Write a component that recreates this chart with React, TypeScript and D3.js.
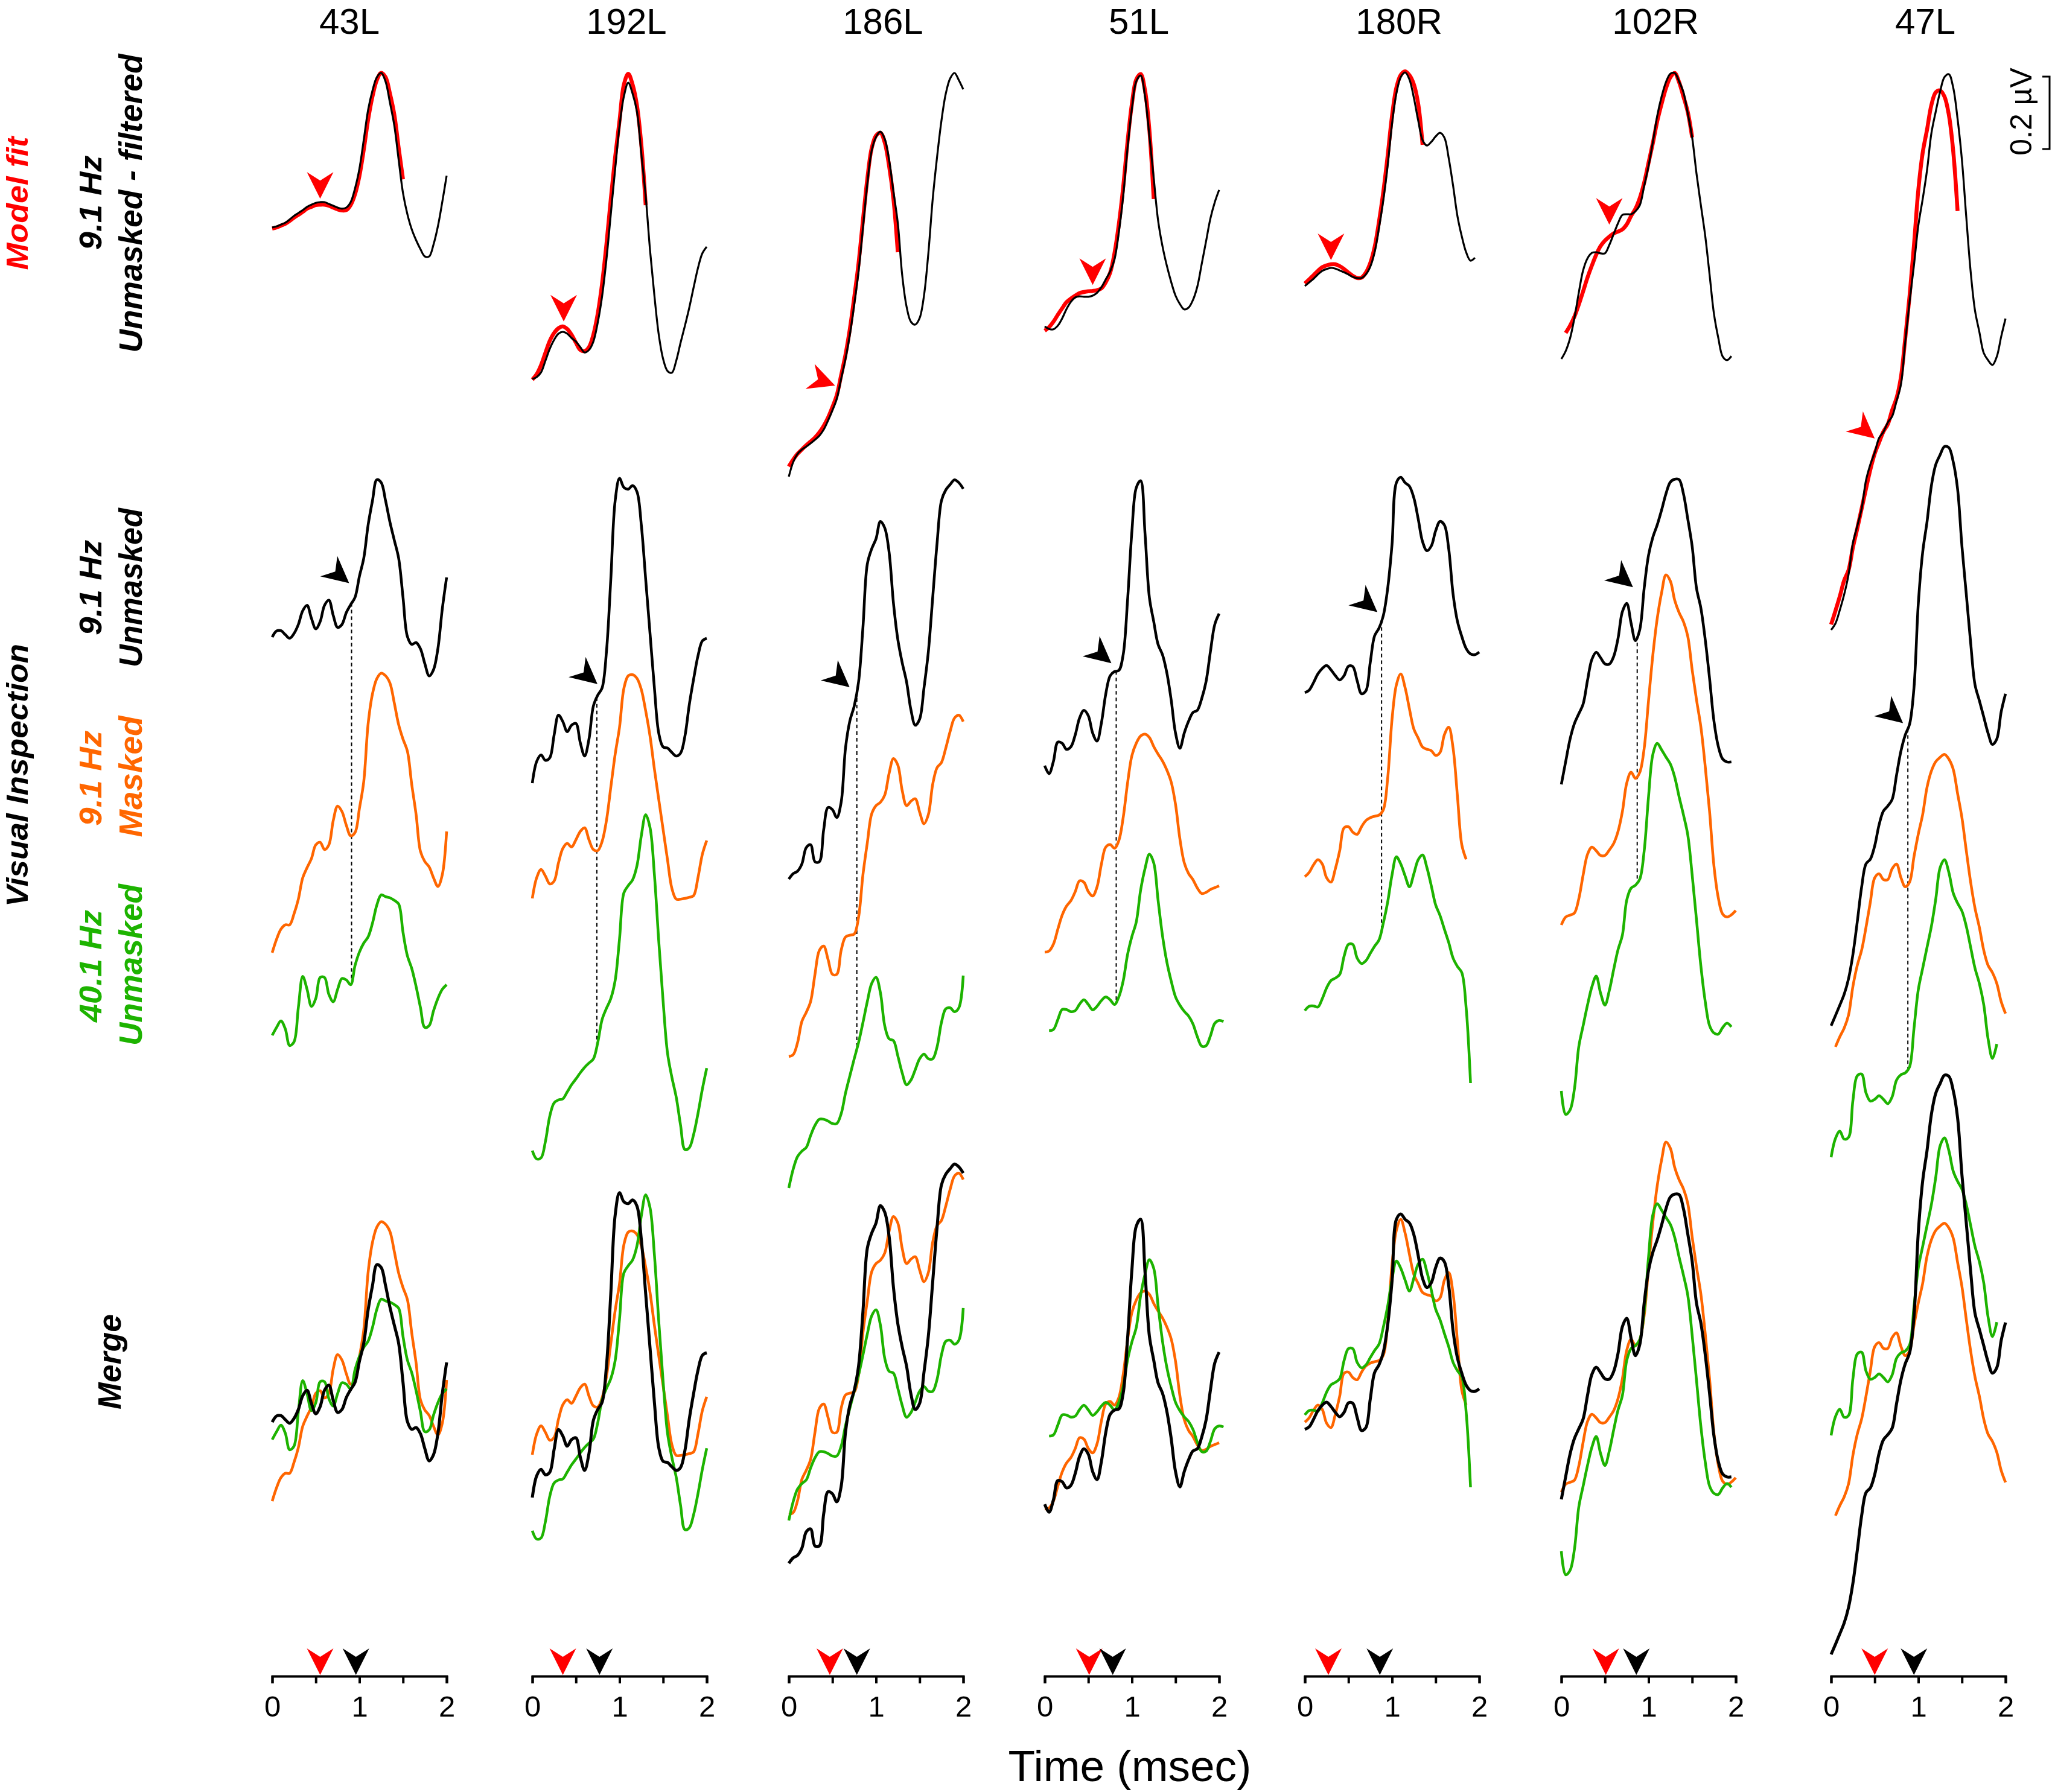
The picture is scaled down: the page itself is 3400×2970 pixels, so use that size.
import React, { useEffect, useRef } from 'react';
import * as d3 from 'd3';

const W = 3400;
const H = 2970;
const STEP = 0.05; // msec between samples
const PX_PER_MS = 144.5;
const PX_PER_UV = 600;
const FONT = '"Liberation Sans", Arial, Helvetica, sans-serif';

const RED = '#ff0000';
const ORANGE = '#ff6600';
const GREEN = '#1db300';

const columnLabels = ['43L', '192L', '186L', '51L', '180R', '102R', '47L'];
const timeTicks = [0, 0.5, 1, 1.5, 2];

// onset estimates (msec)
const modelOnset = [0.55, 0.36, 0.53, 0.55, 0.3, 0.55, 0.5];
const visualOnset = [0.91, 0.74, 0.78, 0.82, 0.88, 0.87, 0.88];
const axisModelOnset = [0.55, 0.35, 0.47, 0.51, 0.27, 0.51, 0.5];
const axisVisualOnset = [0.96, 0.77, 0.78, 0.78, 0.86, 0.86, 0.95];

// 9.1 Hz unmasked, filtered (uV), every 0.05 msec from 0
const filtered43L = [0, .003, .008, .013, .022, .032, .040, .048, .057, .063, .068, .070, .070, .065, .060, .055, .052, .055, .070, .108, .162, .242, .325, .378, .415, .427, .403, .345, .282, .187, .095, .037, -.005, -.035, -.060, -.080, -.080, -.047, .003, .070, .143];
const filtered192L = [0, .005, .018, .050, .083, .108, .125, .130, .125, .113, .103, .088, .073, .080, .103, .155, .228, .330, .455, .580, .698, .780, .818, .788, .738, .622, .505, .355, .230, .122, .055, .022, .017, .050, .100, .147, .197, .253, .307, .347, .365];
const filtered186L = [0, .040, .063, .075, .083, .092, .102, .113, .130, .155, .183, .215, .270, .325, .392, .475, .567, .687, .808, .900, .938, .953, .933, .875, .787, .700, .557, .470, .428, .420, .438, .500, .617, .767, .883, .983, 1.058, 1.100, 1.115, 1.095, 1.070];
const filtered51L = [0, -.007, -.008, .002, .022, .048, .068, .080, .083, .082, .082, .085, .093, .108, .130, .152, .185, .260, .360, .493, .602, .677, .693, .635, .527, .410, .293, .222, .168, .123, .085, .062, .047, .052, .073, .110, .172, .235, .298, .343, .377];
const filtered180R = [0, .010, .020, .032, .042, .047, .050, .048, .043, .038, .032, .025, .022, .022, .032, .053, .093, .160, .237, .333, .448, .532, .577, .590, .570, .520, .457, .403, .388, .398, .413, .423, .410, .353, .277, .193, .137, .093, .070, .078];
const filtered102R = [0, .022, .057, .113, .183, .245, .278, .293, .295, .292, .292, .315, .345, .375, .398, .400, .400, .408, .425, .478, .533, .600, .672, .725, .765, .788, .790, .767, .737, .678, .612, .512, .425, .340, .233, .125, .058, .007, -.003, .008];
const filtered47L = [0, .018, .055, .098, .153, .240, .287, .335, .413, .457, .490, .530, .547, .573, .590, .632, .677, .795, .907, 1.007, 1.117, 1.190, 1.270, 1.372, 1.432, 1.487, 1.527, 1.535, 1.498, 1.412, 1.298, 1.140, .990, .882, .823, .765, .745, .732, .755, .810, .860];

// model fit (uV)
const fit43L = [-.003, 0, .005, .010, .018, .027, .035, .043, .052, .057, .062, .063, .063, .060, .055, .050, .047, .048, .062, .092, .142, .215, .298, .362, .407, .427, .415, .370, .312, .220, .133];
const fit192L = [-.002, .013, .038, .072, .105, .127, .140, .145, .138, .122, .100, .080, .077, .088, .122, .180, .263, .372, .497, .613, .713, .813, .843, .813, .755, .647, .480];
const fit186L = [.028, .047, .063, .075, .087, .097, .108, .122, .140, .163, .192, .225, .280, .337, .408, .495, .590, .708, .822, .907, .942, .950, .923, .858, .767, .620];
const fit51L = [-.012, -.002, .013, .032, .050, .067, .077, .085, .092, .095, .097, .098, .100, .105, .122, .148, .202, .282, .385, .510, .615, .682, .697, .652, .543, .352];
const fit180R = [.007, .018, .030, .042, .052, .057, .060, .060, .055, .047, .037, .028, .022, .023, .037, .063, .107, .177, .260, .360, .470, .548, .583, .593, .582, .557, .503, .390];
const fit102R = [.072, .092, .117, .150, .187, .225, .258, .288, .312, .327, .338, .347, .352, .358, .372, .395, .415, .445, .487, .542, .597, .657, .705, .748, .778, .790, .765, .725, .682, .612];
const fit47L = [.015, .053, .093, .137, .165, .228, .280, .335, .390, .443, .487, .518, .548, .568, .607, .640, .697, .805, .923, 1.062, 1.215, 1.318, 1.382, 1.450, 1.485, 1.490, 1.473, 1.423, 1.323, 1.157];
const fitStart = [0, 0, 0, 0, 0, 0.05, 0];

// 9.1 Hz unmasked (uV)
const unmasked43L = [0, .017, .018, .007, -.003, .010, .035, .073, .088, .052, .023, .043, .088, .102, .060, .027, .035, .068, .090, .110, .168, .218, .310, .377, .435, .427, .377, .318, .268, .218, .110, .002, -.020, -.015, -.032, -.073, -.107, -.090, -.032, .077, .165];
const unmasked192L = [0, .060, .078, .063, .070, .133, .188, .170, .142, .160, .165, .112, .075, .122, .213, .243, .263, .363, .563, .780, .842, .817, .812, .822, .805, .713, .563, .413, .263, .138, .100, .097, .085, .075, .083, .130, .217, .288, .352, .393, .400];
const unmasked186L = [0, .015, .022, .042, .087, .095, .048, .048, .137, .198, .192, .170, .212, .362, .437, .478, .545, .695, .870, .912, .940, .988, .970, .903, .762, .662, .598, .545, .468, .425, .442, .528, .628, .778, .928, 1.045, 1.075, 1.090, 1.103, 1.095, 1.078];
const unmasked51L = [0, -.022, .012, .065, .062, .045, .052, .085, .132, .153, .138, .090, .068, .118, .198, .248, .260, .263, .307, .457, .648, .768, .787, .642, .465, .398, .335, .307, .257, .182, .090, .048, .090, .123, .147, .153, .185, .232, .315, .390, .420];
const unmasked180R = [0, .007, .028, .052, .067, .075, .063, .047, .035, .047, .073, .072, .033, -.003, .005, .083, .157, .178, .213, .288, .410, .580, .595, .580, .570, .538, .480, .417, .392, .405, .447, .473, .463, .397, .272, .197, .155, .122, .107, .105, .112];
const unmasked102R = [0, .063, .125, .168, .195, .222, .287, .345, .365, .350, .333, .332, .353, .403, .477, .500, .445, .397, .428, .542, .633, .683, .717, .758, .803, .835, .843, .842, .803, .733, .658, .542, .487, .400, .292, .175, .105, .070, .062, .062];
const unmasked47L = [0, .028, .057, .087, .130, .197, .287, .383, .447, .460, .497, .555, .593, .607, .625, .692, .758, .803, .833, .933, 1.167, 1.308, 1.392, 1.492, 1.550, 1.577, 1.600, 1.597, 1.558, 1.483, 1.325, 1.192, 1.058, .942, .898, .853, .808, .777, .792, .867, .917];

// 9.1 Hz masked (uV)
const masked43L = [0, .037, .065, .077, .077, .107, .148, .207, .235, .260, .298, .305, .285, .298, .365, .405, .390, .352, .323, .332, .398, .473, .632, .715, .757, .772, .765, .745, .690, .630, .590, .557, .465, .382, .280, .252, .237, .207, .183, .215, .335];
const masked192L = [0, .057, .080, .062, .040, .048, .098, .138, .152, .142, .162, .185, .195, .162, .135, .132, .157, .215, .307, .398, .473, .580, .615, .618, .608, .577, .518, .448, .357, .273, .190, .107, .028, -.002, -.002, 0, .003, .008, .058, .122, .160];
const masked186L = [0, .005, .038, .097, .122, .152, .227, .293, .305, .268, .227, .227, .293, .330, .335, .338, .385, .502, .590, .670, .693, .702, .722, .782, .823, .805, .735, .693, .705, .712, .675, .643, .668, .752, .798, .812, .852, .898, .935, .943, .925];
const masked51L = [0, .003, .022, .063, .102, .127, .142, .167, .197, .193, .167, .155, .180, .243, .290, .297, .287, .308, .372, .467, .543, .577, .597, .602, .593, .568, .547, .528, .503, .470, .408, .313, .247, .217, .200, .177, .162, .165, .173, .178, .183];
const masked180R = [0, .012, .033, .047, .035, -.003, -.015, .022, .072, .135, .138, .123, .117, .138, .155, .163, .167, .170, .185, .272, .435, .530, .560, .522, .463, .408, .383, .358, .352, .348, .335, .343, .392, .413, .355, .222, .088, .048];
const masked102R = [0, .022, .027, .033, .072, .138, .195, .215, .205, .192, .192, .207, .225, .258, .313, .392, .422, .405, .422, .488, .620, .747, .847, .918, .967, .950, .897, .863, .838, .797, .705, .622, .547, .438, .313, .163, .075, .030, .022, .028, .040];
const masked47L = [0, .028, .052, .088, .167, .225, .267, .330, .400, .467, .478, .462, .462, .492, .505, .468, .442, .455, .525, .588, .642, .717, .762, .788, .800, .808, .795, .767, .700, .633, .542, .455, .383, .330, .267, .225, .205, .175, .125, .092];
const maskedStart = [0, 0, 0, 0, 0, 0, 0.05];

// 40.1 Hz unmasked (uV)
const fast43L = [0, .022, .040, .018, -.028, -.018, .077, .163, .127, .080, .102, .160, .160, .113, .093, .127, .157, .153, .140, .193, .230, .255, .272, .310, .360, .388, .383, .380, .373, .363, .285, .220, .185, .135, .077, .022, .027, .068, .102, .127, .140];
const fast192L = [0, -.023, -.020, .025, .095, .132, .140, .143, .162, .182, .198, .215, .230, .242, .253, .298, .362, .393, .420, .470, .585, .712, .732, .748, .787, .870, .928, .892, .762, .578, .412, .270, .203, .148, .070, .003, .008, .045, .103, .170, .228];
const fast186L = [0, .052, .087, .102, .112, .145, .173, .190, .190, .185, .178, .178, .205, .262, .310, .357, .402, .457, .515, .565, .582, .540, .448, .412, .407, .365, .318, .285, .298, .327, .357, .370, .357, .357, .390, .457, .495, .498, .487, .498, .587];
const fast51L = [0, .003, .030, .058, .058, .052, .055, .073, .085, .072, .057, .067, .083, .093, .085, .072, .093, .137, .210, .260, .300, .388, .447, .487, .463, .360, .263, .190, .137, .093, .070, .053, .040, .018, -.017, -.043, -.042, -.015, .020, .028, .025];
const fast180R = [0, .012, .013, .010, .033, .063, .083, .090, .100, .150, .183, .183, .145, .130, .138, .158, .178, .195, .242, .300, .375, .425, .405, .372, .342, .378, .417, .430, .395, .345, .292, .263, .225, .188, .145, .122, .105, .007, -.200];
const fast102R = [0, -.065, -.053, .005, .122, .180, .237, .287, .317, .270, .237, .277, .335, .390, .430, .527, .560, .568, .585, .663, .813, .930, .960, .942, .922, .903, .867, .813, .763, .707, .597, .472, .345, .247, .180, .160, .157, .175, .187, .177];
const fast47L = [0, .052, .072, .050, .055, .157, .225, .230, .178, .155, .160, .170, .160, .148, .167, .213, .228, .233, .250, .355, .463, .522, .580, .638, .713, .800, .822, .787, .730, .702, .680, .638, .580, .522, .480, .422, .327, .273, .313];
const fastStart = [0, 0, 0, 0.05, 0, 0, 0];

const filteredSeries = [filtered43L, filtered192L, filtered186L, filtered51L, filtered180R, filtered102R, filtered47L];
const fitSeries = [fit43L, fit192L, fit186L, fit51L, fit180R, fit102R, fit47L];
const unmaskedSeries = [unmasked43L, unmasked192L, unmasked186L, unmasked51L, unmasked180R, unmasked102R, unmasked47L];
const maskedSeries = [masked43L, masked192L, masked186L, masked51L, masked180R, masked102R, masked47L];
const fastSeries = [fast43L, fast192L, fast186L, fast51L, fast180R, fast102R, fast47L];

// page layout (pixels)
const colX0 = [451, 882, 1307, 1731, 2162, 2587, 3034];
const titleX = [579, 1038, 1463, 1887, 2318, 2743, 3190];
const topBase = [377, 628, 790, 541, 474, 595, 1044];
// [unmasked, masked, 40 Hz]
const stackBase = [[1056, 1579, 1716], [1298, 1489, 1907], [1457, 1751, 1969], [1269, 1578, 1708], [1148, 1453, 1675], [1300, 1533, 1808], [1700, 1735, 1918]];
const mergeBase = [[2357, 2488, 2386], [2482, 2411, 2537], [2591, 2510, 2520], [2493, 2501, 2380], [2369, 2357, 2345], [2485, 2473, 2571], [2742, 2512, 2379]];
const redArrow = [[0, -10, 90], [0, -9, 90], [0, -24, 20], [0, -10, 90], [0, -7, 90], [0, -20, 90], [0, -25, 40]];
const blackArrow = [[-4, -33], [1, -22], [-12, -7], [-8, -13], [-7, -14], [-7, -81], [-8, -9]];
const AXIS_Y = 2778;

const ARROW = 'M0,0L-44,-22L-30,0L-44,22Z';

const valueAt = (vals: number[], t0: number, t: number) => {
  const f = Math.max(0, Math.min(vals.length - 1, (t - t0) / STEP));
  const i = Math.min(vals.length - 2, Math.floor(f));
  return vals[i] + (vals[i + 1] - vals[i]) * (f - i);
};

const yScale = (base: number) => d3.scaleLinear().domain([0, 1]).range([base, base - PX_PER_UV]);

const tracePath = (vals: number[], t0: number, x: d3.ScaleLinear<number, number>, y: d3.ScaleLinear<number, number>) =>
  d3.line<number>()
    .x((_, i) => x(t0 + i * STEP))
    .y(d => y(d))
    .curve(d3.curveCatmullRom.alpha(0.5))(vals) || '';

const Label = ({ x, y, len, size = 54, color = '#000', children }: any) => (
  <text transform={`translate(${x},${y}) rotate(-90)`} textAnchor="middle" fontFamily={FONT}
    fontWeight="bold" fontStyle="italic" fontSize={size} fill={color} textLength={len} lengthAdjust="spacingAndGlyphs">
    {children}
  </text>
);

export default function App() {
  const axesRef = useRef<SVGGElement>(null);

  useEffect(() => {
    const g = d3.select(axesRef.current);
    g.selectAll('*').remove();
    colX0.forEach(x0 => {
      const x = d3.scaleLinear().domain([0, 2]).range([x0, x0 + 2 * PX_PER_MS]);
      const axis = d3.axisBottom(x)
        .tickValues(timeTicks)
        .tickFormat(d => (Number(d) % 1 === 0 ? String(d) : ''))
        .tickSize(12)
        .tickSizeOuter(12)
        .tickPadding(20);
      const a = g.append('g').attr('transform', `translate(0,${AXIS_Y})`).call(axis);
      a.attr('font-size', 49).attr('font-family', FONT);
      a.select('.domain').attr('stroke-width', 4);
      a.selectAll('.tick line').attr('stroke-width', 4);
      a.selectAll('.tick text').attr('fill', '#000');
    });
  }, []);

  return (
    <svg width={W} height={H} style={{ position: 'absolute', left: 0, top: 0, background: '#fff' }}>
      <rect width={W} height={H} fill="#fff" />

      {/* row labels */}
      <Label x={46} y={337} len={221} size={50} color={RED}>Model fit</Label>
      <Label x={168} y={336} len={157} size={52}>9.1 Hz</Label>
      <Label x={235} y={337} len={495}>Unmasked - filtered</Label>
      <Label x={46} y={1285} len={436} size={50}>Visual Inspection</Label>
      <Label x={168} y={974} len={158} size={52}>9.1 Hz</Label>
      <Label x={235} y={974} len={264}>Unmasked</Label>
      <Label x={168} y={1290} len={158} size={52} color={ORANGE}>9.1 Hz</Label>
      <Label x={235} y={1287} len={201} color={ORANGE}>Masked</Label>
      <Label x={168} y={1601} len={186} size={52} color={GREEN}>40.1 Hz</Label>
      <Label x={235} y={1599} len={268} color={GREEN}>Unmasked</Label>
      <Label x={200} y={2257} len={158}>Merge</Label>

      {columnLabels.map((name, c) => {
        const x = d3.scaleLinear().domain([0, 2]).range([colX0[c], colX0[c] + 2 * PX_PER_MS]);
        const yTop = yScale(topBase[c]);
        const [ub, mb, gb] = stackBase[c];
        const [umb, mmb, gmb] = mergeBase[c];
        const yU = yScale(ub), yM = yScale(mb), yG = yScale(gb);
        const yUm = yScale(umb), yMm = yScale(mmb), yGm = yScale(gmb);
        const tm = modelOnset[c];
        const tv = visualOnset[c];
        const redPt = [x(tm) + redArrow[c][0], yTop(valueAt(fitSeries[c], fitStart[c], tm)) + redArrow[c][1]];
        const dotTop = yU(valueAt(unmaskedSeries[c], 0, tv));
        const dotBottom = yG(valueAt(fastSeries[c], fastStart[c], tv));
        return (
          <g key={name}>
            <text x={titleX[c]} y={56} textAnchor="middle" fontFamily={FONT} fontSize={60}>{name}</text>

            {/* model fit row */}
            <path d={tracePath(fitSeries[c], fitStart[c], x, yTop)} fill="none" stroke={RED} strokeWidth={6.5} />
            <path d={tracePath(filteredSeries[c], 0, x, yTop)} fill="none" stroke="#000" strokeWidth={3.2} />
            <path d={ARROW} fill={RED} transform={`translate(${redPt[0]},${redPt[1]}) rotate(${redArrow[c][2]})`} />

            {/* visual inspection stack */}
            <line x1={x(tv)} x2={x(tv)} y1={dotTop} y2={dotBottom} stroke="#000" strokeWidth={2} strokeDasharray="6 5" />
            <path d={tracePath(unmaskedSeries[c], 0, x, yU)} fill="none" stroke="#000" strokeWidth={4.5} />
            <path d={tracePath(maskedSeries[c], maskedStart[c], x, yM)} fill="none" stroke={ORANGE} strokeWidth={4.5} />
            <path d={tracePath(fastSeries[c], fastStart[c], x, yG)} fill="none" stroke={GREEN} strokeWidth={4.5} />
            <path d={ARROW} fill="#000" transform={`translate(${x(tv) + blackArrow[c][0]},${dotTop + blackArrow[c][1]}) rotate(40)`} />

            {/* merge */}
            <path d={tracePath(maskedSeries[c], maskedStart[c], x, yMm)} fill="none" stroke={ORANGE} strokeWidth={4.5} />
            <path d={tracePath(fastSeries[c], fastStart[c], x, yGm)} fill="none" stroke={GREEN} strokeWidth={4.5} />
            <path d={tracePath(unmaskedSeries[c], 0, x, yUm)} fill="none" stroke="#000" strokeWidth={5} />

            {/* onset markers on the time axis */}
            <path d={ARROW} fill={RED} transform={`translate(${x(axisModelOnset[c])},${AXIS_Y - 2}) rotate(90)`} />
            <path d={ARROW} fill="#000" transform={`translate(${x(axisVisualOnset[c])},${AXIS_Y - 2}) rotate(90)`} />
          </g>
        );
      })}

      <g ref={axesRef} />

      {/* scale bar */}
      <path d={`M3384,127H3396V${127 + 0.2 * PX_PER_UV}H3384`} fill="none" stroke="#000" strokeWidth={3} />
      <text transform="translate(3366,185) rotate(-90)" textAnchor="middle" fontFamily={FONT} fontSize={50}>0.2 µV</text>

      <text x={1872} y={2952} textAnchor="middle" fontFamily={FONT} fontSize={73}>Time (msec)</text>
    </svg>
  );
}
